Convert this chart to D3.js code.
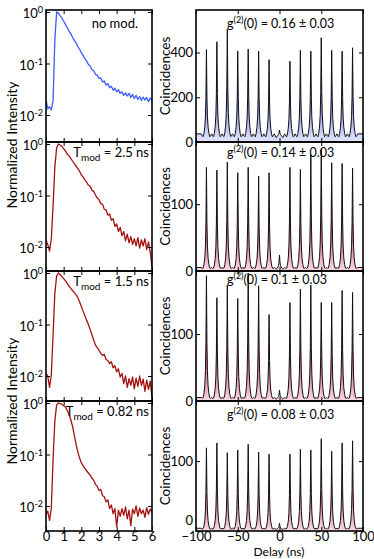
<!DOCTYPE html>
<html>
<head>
<meta charset="utf-8">
<script src="https://cdn.jsdelivr.net/npm/d3@7"></script>
<style>
  html, body { margin: 0; padding: 0; background: #fff; }
  svg { display: block; font-family: Lato, "Open Sans", sans-serif; }
</style>
</head>
<body>
<svg id="fig" width="374" height="559"></svg>
<script>
// left column: time after excitation (ns), log10 of normalized intensity
const decayTimes = [0,0.1,0.2,0.3,0.4,0.5,0.6,0.7,0.8,0.9,1,1.1,1.2,1.3,1.4,1.5,1.6,1.7,1.8,1.9,2,
  2.1,2.2,2.3,2.4,2.5,2.6,2.7,2.8,2.9,3,3.1,3.2,3.3,3.4,3.5,3.6,3.7,3.8,3.9,4,
  4.1,4.2,4.3,4.4,4.5,4.6,4.7,4.8,4.9,5,5.1,5.2,5.3,5.4,5.5,5.6,5.7,5.8,5.9,6];
const decayNoMod = [-1.70,-1.88,-1.84,-1.90,-1.72,-0.55,0.00,-0.02,-0.07,-0.12,-0.18,-0.24,-0.30,-0.37,-0.42,-0.49,-0.55,-0.60,-0.67,-0.72,-0.79,
  -0.84,-0.91,-0.95,-1.02,-1.05,-1.12,-1.14,-1.21,-1.23,-1.29,-1.28,-1.36,-1.34,-1.42,-1.39,-1.47,-1.44,-1.52,-1.48,-1.55,
  -1.51,-1.58,-1.55,-1.62,-1.57,-1.63,-1.58,-1.66,-1.60,-1.68,-1.62,-1.70,-1.64,-1.72,-1.65,-1.71,-1.66,-1.74,-1.67,-1.72];
const decay25 = [-1.87,-1.95,-2.08,-1.85,-1.20,-0.45,-0.08,0.00,-0.02,-0.05,-0.09,-0.14,-0.19,-0.23,-0.28,-0.33,-0.38,-0.43,-0.48,-0.53,-0.60,
  -0.64,-0.70,-0.74,-0.80,-0.82,-0.90,-0.92,-0.99,-1.05,-1.08,-1.16,-1.17,-1.27,-1.28,-1.38,-1.36,-1.48,-1.45,-1.60,-1.55,
  -1.70,-1.62,-1.78,-1.70,-1.88,-1.75,-1.92,-1.80,-1.95,-1.84,-1.98,-1.82,-2.02,-1.86,-1.98,-1.84,-2.05,-1.90,-2.10,-2.38];
const decay15 = [-1.95,-2.00,-2.22,-1.98,-1.20,-0.40,-0.06,0.00,-0.03,-0.07,-0.11,-0.15,-0.20,-0.25,-0.30,-0.34,-0.38,-0.42,-0.48,-0.56,-0.65,
  -0.74,-0.83,-0.92,-1.00,-1.10,-1.20,-1.30,-1.40,-1.45,-1.50,-1.56,-1.60,-1.58,-1.68,-1.70,-1.76,-1.72,-1.84,-1.80,-1.92,
  -1.86,-2.02,-1.95,-2.15,-2.00,-2.22,-2.05,-2.18,-2.02,-2.25,-2.04,-2.20,-2.00,-2.18,-2.06,-2.30,-2.08,-2.26,-2.10,-2.42];
const decay082 = [-2.17,-2.10,-2.28,-2.05,-1.10,-0.35,-0.04,0.00,-0.01,-0.03,-0.05,-0.08,-0.14,-0.22,-0.32,-0.45,-0.62,-0.80,-0.95,-1.07,-1.16,
  -1.22,-1.27,-1.32,-1.36,-1.40,-1.46,-1.50,-1.58,-1.62,-1.70,-1.68,-1.80,-1.82,-1.92,-1.88,-2.05,-1.98,-2.15,-2.05,-2.40,
  -2.08,-2.20,-2.05,-2.18,-2.02,-2.25,-2.08,-2.38,-2.06,-2.15,-2.00,-2.20,-2.04,-2.15,-2.08,-2.22,-2.03,-2.16,-2.06,-2.12];
const modLabels = [null, "2.5 ns", "1.5 ns", "0.82 ns"];

// right column: coincidence peaks (delay in ns, peak counts)
const peakDelays = [-87.5,-75,-62.5,-50,-37.5,-25,-12.5,0,12.5,25,37.5,50,62.5,75,87.5];
const peaksNoMod = [413,448,504,407,415,406,368,53,361,410,406,466,410,406,421];
const peaks25 = [155,151,163,147,155,142,147,24,155,152,174,182,162,161,154];
const peaks15 = [187,154,173,153,191,172,129,16,147,167,173,147,147,165,162];
const peaks082 = [119,126,112,116,124,113,110,11,110,117,116,132,114,126,129];
const floors = [28, 4, 4, 3];
const g2Values = ["0.16", "0.14", "0.1", "0.08"];
const g2Error = "0.03";

// shape of one coincidence peak and of the floor around it
const profileOffsets = [-6.25,-5,-4,-3,-2,-1.2,-0.6,0,0.6,1.2,2,3,4,5,6.25];
const peakShape =      [0,0,0.01,0.04,0.1,0.22,0.45,1,0.45,0.22,0.1,0.04,0.01,0,0];
const floorShape =     [1.3,1.0,0.7,0.8,1,1,1,1,1,1,1,0.8,0.7,1.0,1.3];

const coincMax = [590, 193, 194, 186];
const coincTicks = [[0,200,400],[0,100],[0,100],[0,100]];
const logTicks = [1, 0.1, 0.01];
const logExps = ["0", "-1", "-2"];
const timeTicks = [0,1,2,3,4,5,6];
const delayTicks = [-100,-50,0,50,100];

const svg = d3.select('#fig');
const defs = svg.append('defs');

const rowY = [10, 142, 271, 401, 531];
const pxPerDecade = 51.5;
const g2LabelDy = [18, 15, 13, 18];
const xT = d3.scaleLinear().domain([0, 6]).range([46, 152]);
const xD = d3.scaleLinear().domain([-100, 100]).range([196, 363]);

const decaySeries = [decayNoMod, decay25, decay15, decay082];
const peakSeries = [peaksNoMod, peaks25, peaks15, peaks082];

function frameAxes(g, x, y, top, bot, yTicks, xTicks, showX) {
  const yl = g.append('g').attr('class', 'yleft').attr('transform', `translate(${x.range()[0]},0)`)
    .call(d3.axisLeft(y).tickValues(yTicks).tickSize(-4).tickPadding(3))
    .call(a => a.select('.domain').remove());
  g.append('g').attr('transform', `translate(${x.range()[1]},0)`)
    .call(d3.axisRight(y).tickValues(yTicks).tickSize(-4).tickFormat(''))
    .call(a => a.select('.domain').remove());
  g.append('g').attr('transform', `translate(0,${bot})`)
    .call(d3.axisBottom(x).tickValues(xTicks).tickSize(-4).tickPadding(0.5).tickFormat(showX ? d3.format('') : ''))
    .call(a => a.select('.domain').remove());
  g.append('g').attr('transform', `translate(0,${top})`)
    .call(d3.axisTop(x).tickValues(xTicks).tickSize(-4).tickFormat(''))
    .call(a => a.select('.domain').remove());
  g.selectAll('.tick line').attr('stroke', '#000').attr('stroke-width', 1);
  g.selectAll('.tick text').attr('font-size', 13).attr('fill', '#000').attr('font-family', 'Lato, sans-serif');
  g.append('rect')
    .attr('x', x.range()[0]).attr('y', top)
    .attr('width', x.range()[1] - x.range()[0]).attr('height', bot - top)
    .attr('fill', 'none').attr('stroke', '#000').attr('stroke-width', 1.6);
  return yl;
}

decaySeries.forEach((vals, i) => {
  const top = rowY[i], bot = rowY[i + 1];
  const y = d3.scaleLog()
    .domain([Math.pow(10, 2 / pxPerDecade), Math.pow(10, -(bot - top - 2) / pxPerDecade)])
    .range([top, bot]);

  defs.append('clipPath').attr('id', `clipL${i}`)
    .append('rect').attr('x', xT.range()[0]).attr('y', top)
    .attr('width', xT.range()[1] - xT.range()[0]).attr('height', bot - top);

  const g = svg.append('g');
  const line = d3.line().x((d, k) => xT(decayTimes[k])).y(d => y(Math.pow(10, d)));
  g.append('path').datum(vals)
    .attr('clip-path', `url(#clipL${i})`)
    .attr('d', line)
    .attr('fill', 'none')
    .attr('stroke', i === 0 ? '#3a5cff' : '#a3110e')
    .attr('stroke-width', 1.3)
    .attr('stroke-linejoin', 'round');

  const yl = frameAxes(g, xT, y, top, bot, logTicks, timeTicks, i === 3);
  yl.selectAll('.tick text').each(function (d) {
    const t = d3.select(this).text('10').attr('dy', '0.45em');
    t.append('tspan').attr('dy', '-0.55em').attr('font-size', 9).text(logExps[logTicks.indexOf(d)]);
  });

  if (i === 0) {
    g.append('text').attr('x', 138).attr('y', top + 18).attr('text-anchor', 'end')
      .attr('font-size', 13).text('no mod.');
  } else {
    const t = g.append('text').attr('x', 149).attr('y', top + 15).attr('text-anchor', 'end')
      .attr('font-size', 13).text('T');
    t.append('tspan').attr('dy', 4).attr('font-size', 10).text('mod');
    t.append('tspan').attr('dy', -4).text(' = ' + modLabels[i]);
  }
});

peakSeries.forEach((heights, i) => {
  const top = rowY[i], bot = rowY[i + 1];
  const y = d3.scaleLinear().domain([0, coincMax[i]]).range([bot, top]);
  const fl = floors[i];

  const pts = [{ d: -100, c: fl * 1.3 }];
  peakDelays.forEach((pd, k) => {
    profileOffsets.forEach((off, j) => {
      pts.push({ d: pd + off, c: fl * floorShape[j] + (heights[k] - fl) * peakShape[j] });
    });
  });
  pts.push({ d: 100, c: fl * 1.3 });

  const gid = `gradR${i}`;
  const stops = i === 0
    ? [['0%', '#e2e4fc'], ['8%', '#c9cef9'], ['40%', '#5466ea'], ['100%', '#1d2aa8']]
    : [['0%', '#f8dbe4'], ['8%', '#f0b6c8'], ['40%', '#c83a66'], ['100%', '#8c0d2a']];
  const grad = defs.append('linearGradient').attr('id', gid)
    .attr('gradientUnits', 'userSpaceOnUse')
    .attr('x1', 0).attr('x2', 0).attr('y1', bot).attr('y2', top);
  stops.forEach(s => grad.append('stop').attr('offset', s[0]).attr('stop-color', s[1]));

  defs.append('clipPath').attr('id', `clipR${i}`)
    .append('rect').attr('x', xD.range()[0]).attr('y', top)
    .attr('width', xD.range()[1] - xD.range()[0]).attr('height', bot - top);

  const g = svg.append('g');
  g.append('path').datum(pts)
    .attr('clip-path', `url(#clipR${i})`)
    .attr('d', d3.area().x(p => xD(p.d)).y0(bot).y1(p => y(p.c)))
    .attr('fill', `url(#${gid})`);
  g.append('path').datum(pts)
    .attr('clip-path', `url(#clipR${i})`)
    .attr('d', d3.line().x(p => xD(p.d)).y(p => y(p.c)))
    .attr('fill', 'none').attr('stroke', '#111').attr('stroke-width', 1)
    .attr('stroke-linejoin', 'round');

  const yl = frameAxes(g, xD, y, top, bot, coincTicks[i], delayTicks, i === 3);
  if (i === 3) yl.selectAll('.tick text').filter(d => d === 0).attr('dy', '-0.5em');

  const t = g.append('text').attr('x', 227).attr('y', top + g2LabelDy[i]).attr('font-size', 12.5).text('g');
  t.append('tspan').attr('dy', -5).attr('font-size', 9).text('(2)');
  t.append('tspan').attr('dy', 5).text(`(0) = ${g2Values[i]} \u00b1 ${g2Error}`);

  svg.append('text')
    .attr('transform', `translate(170,${(top + bot) / 2}) rotate(-90)`)
    .attr('text-anchor', 'middle').attr('font-size', 13.5).text('Coincidences');
});

svg.append('text').attr('transform', 'translate(17,145) rotate(-90)')
  .attr('text-anchor', 'middle').attr('font-size', 14).text('Normalized Intensity');
svg.append('text').attr('transform', 'translate(17,401) rotate(-90)')
  .attr('text-anchor', 'middle').attr('font-size', 14).text('Normalized Intensity');
svg.append('text').attr('x', 279).attr('y', 556)
  .attr('text-anchor', 'middle').attr('font-size', 12).text('Delay (ns)');
</script>
</body>
</html>
